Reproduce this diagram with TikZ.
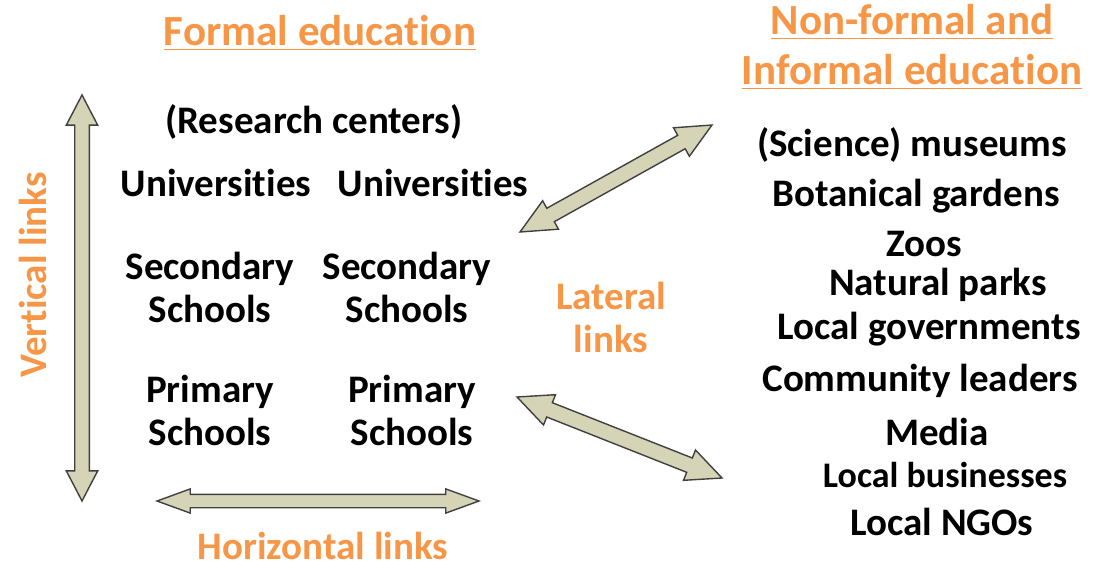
\documentclass[tikz,border=0pt]{standalone}
\usepackage{fontspec}
\setmainfont{Carlito}[Ligatures=NoCommon]
\usetikzlibrary{calc,shapes.arrows}
\definecolor{linkorange}{HTML}{F79646}
\definecolor{arrowfill}{HTML}{D5D4B6}
\definecolor{arrowline}{HTML}{404040}
\newcommand{\og}[1]{\textcolor{linkorange}{#1}}
\newcommand{\blockarrow}[3][]{%
  \path let \p1=($(#3)-(#2)$), \n1={veclen(\x1,\y1)}, \n2={atan2(\y1,\x1)} in
    node[linkarrow, minimum height=\n1, rotate=\n2, #1] at ($(#2)!0.5!(#3)$) {};}
\tikzset{
  lbl/.style={font=\fontsize{19.5}{21.5}\selectfont\bfseries, inner sep=0pt, align=center},
  head/.style={font=\fontsize{21.5}{25}\selectfont\bfseries, inner sep=0pt, align=center, text=linkorange},
  linkarrow/.style={double arrow, draw=arrowline, fill=arrowfill, line width=0.7pt,
    inner xsep=0pt, inner ysep=3.3pt, double arrow head extend=4.2pt, double arrow tip angle=55}
}
\begin{document}
\begin{tikzpicture}[x=0.5pt, y=-0.5pt]
			\useasboundingbox (0,0) rectangle (1095,567);
			\node[head] (formal)	at	(320, 33)	{\underline{Formal education}};
			\node[head] (nonformal)	at	(912, 47)	{\underline{Non-formal and}\\\underline{Informal education}};
			%
			\node[lbl] (research)	at	(314, 122)	{(Research centers)};
			\node[lbl] (uni1)	at	(216, 183)	{Universities};
			\node[lbl] (uni2)	at	(433, 183)	{Universities};
			\node[lbl] (sec1)	at	(210, 287)	{Secondary\\Schools};
			\node[lbl] (sec2)	at	(407, 287)	{Secondary\\Schools};
			\node[lbl] (prim1)	at	(210, 410)	{Primary\\Schools};
			\node[lbl] (prim2)	at	(412, 410)	{Primary\\Schools};
			%
			\node[lbl] (museums)	at	(912, 145)	{(Science) museums};
			\node[lbl] (gardens)	at	(916, 196)	{Botanical gardens};
			\node[lbl] (zoos)	at	(924, 244)	{Zoos};
			\node[lbl] (parks)	at	(938, 285)	{Natural parks};
			\node[lbl] (govts)	at	(929, 329)	{Local governments};
			\node[lbl] (leaders)	at	(920, 381)	{Community leaders};
			\node[lbl] (media)	at	(937, 432)	{Media};
			\node[lbl, font=\fontsize{18}{21.5}\selectfont\bfseries] (business)	at	(945, 475)	{Local businesses};
			\node[lbl] (ngos)	at	(942, 522)	{Local NGOs};
			%
			\node[lbl, text=linkorange] (lateral)	at	(611, 317)	{Lateral\\links};
			\node[lbl, text=linkorange, rotate=90] (vertical)	at	(33, 275)	{Vertical links};
			\node[lbl, text=linkorange] (horizontal)	at	(323, 546)	{Horizontal links};
			%
			\coordinate (vtop)	at	(82, 95);
			\coordinate (vbot)	at	(82, 501);
			\coordinate (hleft)	at	(157, 501);
			\coordinate (hright)	at	(479, 501);
			\coordinate (upin)	at	(520, 232);
			\coordinate (upout)	at	(712, 125);
			\coordinate (lowin)	at	(517, 397);
			\coordinate (lowout)	at	(722, 478);
			%
			\blockarrow{vbot}{vtop}
			\blockarrow[inner ysep=3pt, double arrow head extend=2.7pt, double arrow tip angle=40]{hleft}{hright}
			\blockarrow[inner ysep=3.5pt, double arrow head extend=4.3pt, double arrow tip angle=50]{upin}{upout}
			\blockarrow[inner ysep=3.5pt, double arrow head extend=4.3pt, double arrow tip angle=50]{lowin}{lowout}
		\end{tikzpicture}
\end{document}
